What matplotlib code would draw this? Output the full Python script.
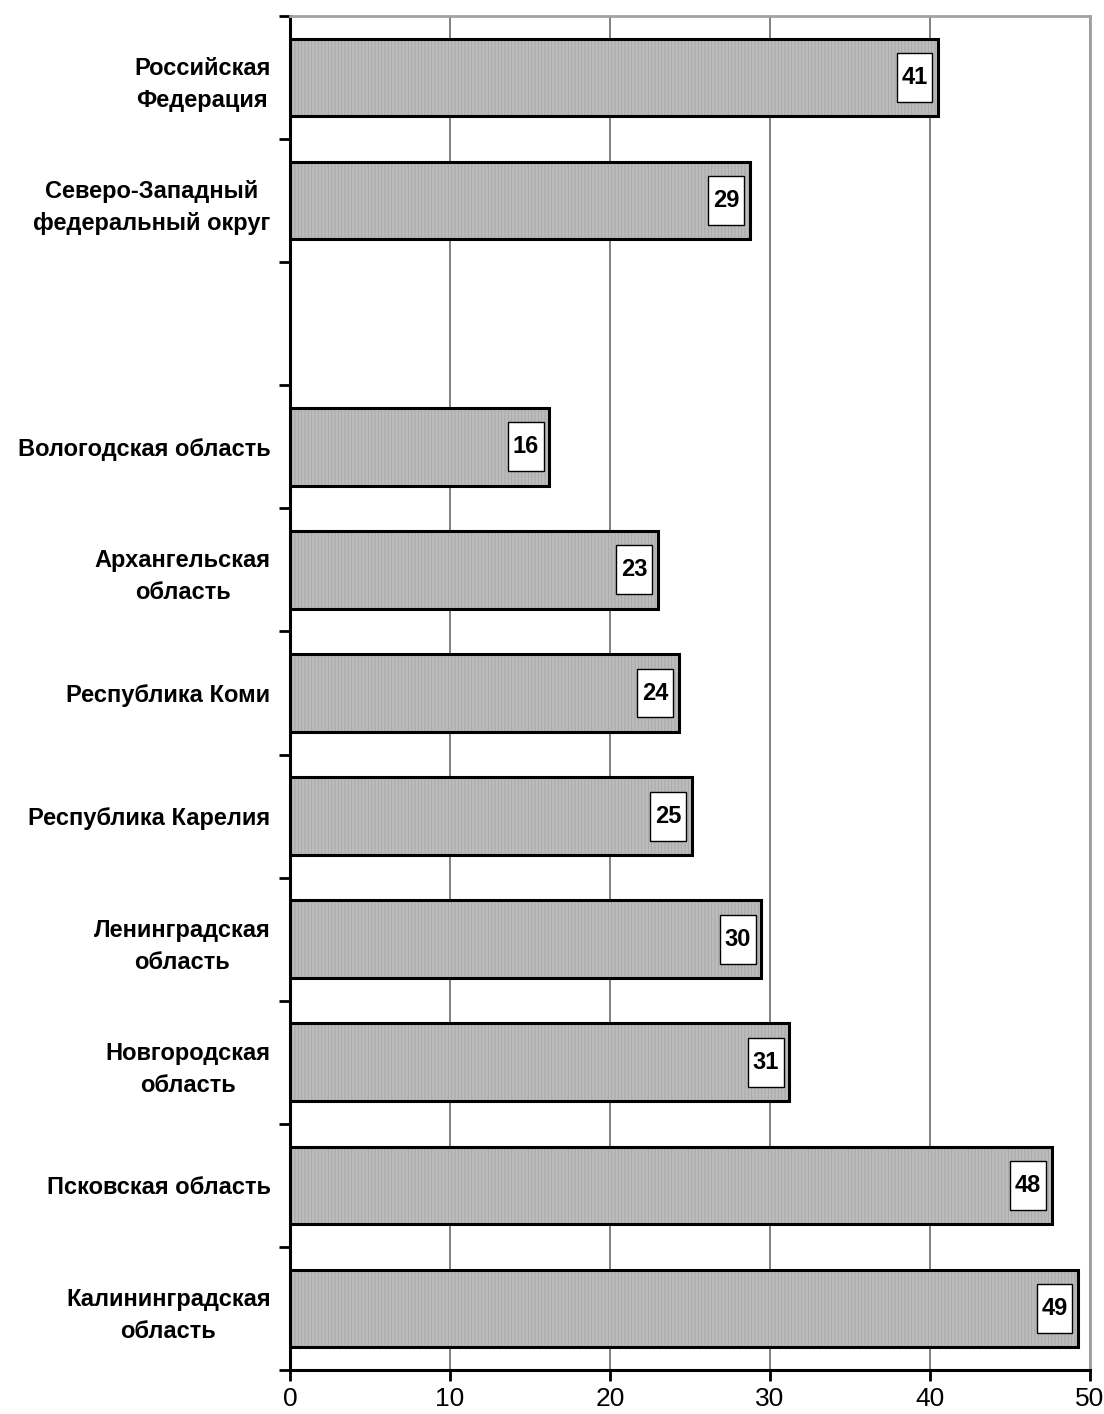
import matplotlib
matplotlib.use("Agg")
import matplotlib.pyplot as plt
from matplotlib.path import Path
import numpy as np

categories = ["Российская\nФедерация", "Северо-Западный\nфедеральный округ", "",
              "Вологодская область", "Архангельская\nобласть", "Республика Коми",
              "Республика Карелия", "Ленинградская\nобласть", "Новгородская\nобласть",
              "Псковская область", "Калининградская\nобласть"]
values = [40.5, 28.75, np.nan, 16.2, 23.0, 24.3, 25.1, 29.45, 31.2, 47.6, 49.25]
value_labels = ["41", "29", "", "16", "23", "24", "25", "30", "31", "48", "49"]
xticks = [0, 10, 20, 30, 40, 50]

plt.rcParams['font.family'] = ['Liberation Sans', 'DejaVu Sans']
plt.rcParams['hatch.linewidth'] = 0.6


def tall_box(x0, y0, width, height, mutation_size):
    px = 0.2 * mutation_size
    py = 0.55 * mutation_size
    x0, y0 = x0 - px, y0 - py
    x1, y1 = x0 + width + 2 * px, y0 + height + 2 * py
    return Path([(x0, y0), (x1, y0), (x1, y1), (x0, y1), (x0, y0)], closed=True)


fig = plt.figure(figsize=(11.04, 14.14), dpi=100)
ax = fig.add_axes([290/1104, 1 - 1370/1414, 800/1104, 1354/1414])

y = np.arange(len(categories))
vals = np.array(values, dtype=float)
mask = ~np.isnan(vals)

ax.barh(y[mask], vals[mask], height=0.63, color='#bcbcbc', edgecolor='#a6a6a6',
        hatch='|||||', linewidth=0, zorder=2)
ax.barh(y[mask], vals[mask], height=0.63, fill=False, edgecolor='black',
        linewidth=2.2, zorder=3)

for yi, v, lab in zip(y, vals, value_labels):
    if np.isnan(v):
        continue
    ax.annotate(lab, xy=(v, yi), xytext=(-7.5, 0), textcoords='offset points',
                ha='right', va='center', fontsize=17, fontweight='bold',
                bbox=dict(boxstyle=tall_box, facecolor='white',
                          edgecolor='black', linewidth=1),
                zorder=5)

ax.set_xlim(0, 50)
ax.set_ylim(len(categories) - 0.5, -0.5)

ax.set_xticks(xticks)
ax.set_xticklabels([str(t) for t in xticks], fontsize=19)
ax.tick_params(axis='x', direction='out', length=8, width=2, pad=4, colors='black')

ax.set_yticks(y)
ax.set_yticklabels(categories, fontsize=17, fontweight='bold', ha='right',
                   multialignment='center', linespacing=1.5)
ax.tick_params(axis='y', which='major', length=0, pad=14)
ax.set_yticks(np.arange(-0.5, len(categories), 1.0), minor=True)
ax.tick_params(axis='y', which='minor', direction='out', length=8, width=2)

ax.xaxis.grid(True, color='#808080', linewidth=1.4, zorder=1)
ax.set_axisbelow(True)

ax.spines['left'].set_color('black')
ax.spines['left'].set_linewidth(2.2)
ax.spines['bottom'].set_color('black')
ax.spines['bottom'].set_linewidth(2.2)
ax.spines['top'].set_color('#a0a0a0')
ax.spines['top'].set_linewidth(2)
ax.spines['right'].set_color('#a0a0a0')
ax.spines['right'].set_linewidth(2)

fig.savefig("out.png", dpi=100)
